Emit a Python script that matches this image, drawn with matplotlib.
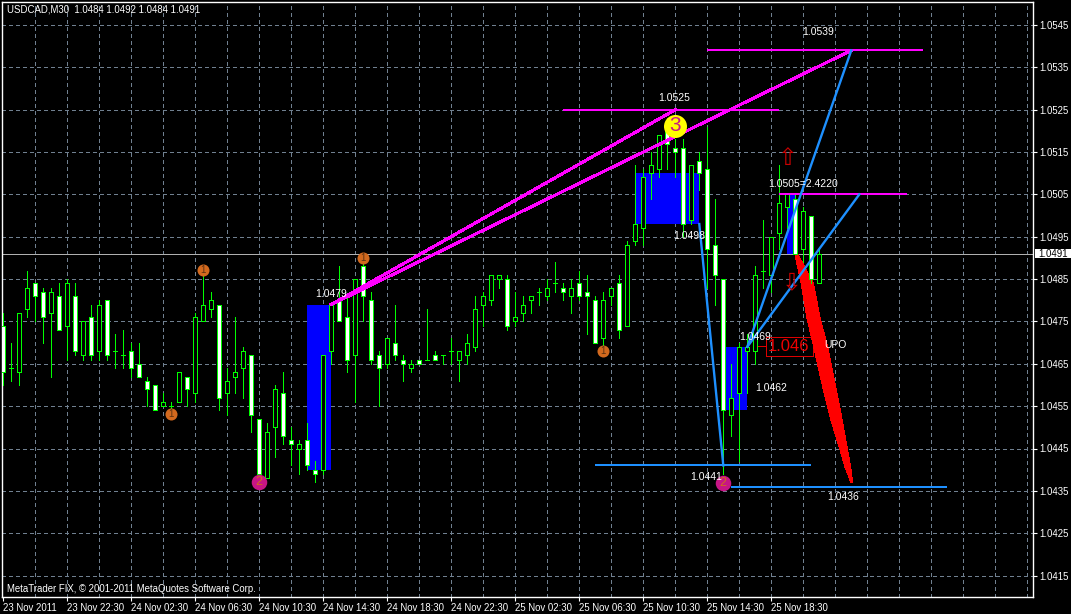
import matplotlib
matplotlib.use('Agg')
import numpy as np
import matplotlib.pyplot as plt
from matplotlib.patches import Rectangle, Polygon

# candle values, in pips above 1.0400
opens = [74, 64, 63, 78, 84, 82, 77, 81, 74, 81,
         67, 76, 68, 80, 68, 67, 68, 65, 61, 60,
         55, 55, 56, 62, 58, 75, 78, 79, 58, 62,
         64, 67, 52, 38, 50, 58, 47, 45, 47, 40,
         40, 68, 80, 76, 67, 88, 80, 67, 65, 70,
         66, 64, 66, 66, 67, 67, 68, 66, 67, 69,
         79, 80, 85, 85, 75, 77, 80, 82, 81, 84,
         83, 81, 84, 82, 80, 71, 81, 84, 74, 94,
         97, 110, 111, 120, 116, 116, 99, 113, 111, 93,
         85, 53, 58, 68, 68, 87, 86, 96, 102, 104,
         92, 100, 84]
closes = [63, 64, 77, 83, 81, 76, 82, 73, 84, 68,
          75, 67, 79, 67, 68, 67, 64, 62, 59, 54,
          56, 55, 63, 59, 76, 79, 80, 57, 61, 63,
          68, 53, 39, 49, 59, 48, 46, 46, 41, 39,
          67, 79, 75, 66, 85, 81, 66, 64, 71, 67,
          65, 65, 65, 66, 66, 67, 68, 68, 70, 78,
          81, 86, 86, 74, 76, 79, 81, 82, 83, 84,
          82, 83, 81, 81, 70, 80, 83, 73, 93, 98,
          109, 112, 119, 117, 115, 98, 112, 110, 92, 86,
          54, 57, 69, 69, 86, 87, 95, 103, 105, 91,
          101, 85, 91]
highs = [77, 70, 77, 87, 84, 83, 83, 84, 85, 84,
         75, 79, 80, 80, 72, 73, 70, 70, 62, 60,
         58, 56, 63, 62, 77, 87, 82, 79, 64, 76,
         69, 67, 52, 51, 60, 63, 50, 47, 51, 42,
         67, 79, 88, 81, 85, 90, 82, 68, 71, 79,
         67, 66, 66, 78, 68, 67, 71, 68, 72, 81,
         82, 86, 86, 86, 82, 81, 81, 83, 85, 89,
         84, 85, 87, 86, 81, 82, 83, 86, 94, 112,
         111, 115, 119, 123, 118, 118, 112, 115, 121, 104,
         85, 65, 70, 72, 88, 99, 95, 112, 105, 105,
         102, 100, 92]
lows = [60, 61, 60, 76, 75, 70, 62, 73, 66, 67,
        66, 66, 66, 66, 64, 64, 62, 62, 55, 54,
        55, 53, 56, 55, 56, 75, 76, 54, 53, 58,
        57, 49, 39, 38, 43, 46, 41, 39, 40, 37,
        39, 65, 75, 63, 56, 75, 65, 55, 64, 66,
        61, 63, 65, 66, 66, 65, 65, 61, 65, 68,
        74, 79, 83, 73, 74, 75, 77, 79, 80, 82,
        80, 77, 80, 72, 70, 68, 79, 71, 74, 93,
        93, 104, 109, 111, 109, 95, 98, 106, 83, 79,
        39, 48, 42, 58, 65, 83, 82, 92, 97, 91,
        89, 84, 84]

date_labels = ['23 Nov 2011', '23 Nov 22:30', '24 Nov 02:30', '24 Nov 06:30', '24 Nov 10:30',
               '24 Nov 14:30', '24 Nov 18:30', '24 Nov 22:30', '25 Nov 02:30', '25 Nov 06:30',
               '25 Nov 10:30', '25 Nov 14:30', '25 Nov 18:30']
price_ticks = [1.0415, 1.0425, 1.0435, 1.0445, 1.0455, 1.0465, 1.0475, 1.0485, 1.0495,
               1.0505, 1.0515, 1.0525, 1.0535, 1.0545]
last_price = 1.0491

# blue boxes: first bar, last bar, top price, bottom price
box_left = [38, 79, 90.3, 98]
box_right = [41, 87, 93, 99]
box_top = [1.0479, 1.0510, 1.0469, 1.0505]
box_bottom = [1.0440, 1.0498, 1.0454, 1.0491]

# levels: first bar, last bar, price
magenta_start = [70, 88, 97]
magenta_end = [97, 115, 113]
magenta_price = [1.0525, 1.0539, 1.0505]
level_start = [74, 91]
level_end = [101, 118]
level_price = [1.0441, 1.0436]

# red wedge outline
wedge_left_bar = [98.96, 99.71, 100.43, 101.38, 102.3, 103.34, 104.59, 105.21, 105.96]
wedge_right_bar = [99.38, 101.25, 102.09, 103.13, 103.96, 104.8, 105.55, 105.93, 106.18]
wedge_price = [1.04907, 1.04841, 1.04760, 1.04683, 1.04605, 1.04524, 1.04446, 1.04406, 1.04369]

# numbered markers
orange_bar = [25, 21, 45, 75]
orange_price = [1.04872, 1.04532, 1.04901, 1.04680]
purple_bar = [32, 90]
purple_price = [1.04370, 1.04369]

# value labels
label_text = ['1.0539', '1.0525', '1.0479', '1.0505=2.4220', '1.0498', '1.0469', '1.0462', '1.0441', '1.0436', 'UPO']
label_bar = [101.8, 83.8, 40.96, 99.96, 85.8, 93.96, 95.96, 87.8, 104.96, 103.96]
label_price = [1.05433, 1.05278, 1.04815, 1.05075, 1.04952, 1.04713, 1.04593, 1.04383, 1.04335, 1.04694]

font = 'Liberation Sans'
axis_size = 6.9
green = '#00ff00'
grid_col = '#708090'

o = 1.04 + np.array(opens) / 1e4
c = 1.04 + np.array(closes) / 1e4
h = 1.04 + np.array(highs) / 1e4
l = 1.04 + np.array(lows) / 1e4
bars = np.arange(len(o))

W, H = 1071, 614
fig = plt.figure(figsize=(W / 100, H / 100), dpi=100, facecolor='black')
ax = fig.add_axes([2 / W, 1 - 597 / H, (1033 - 2) / W, (597 - 2) / H], facecolor='black')
ax.set_xlim((2 - 3.3) / 8, (1033 - 3.3) / 8)
ax.set_ylim(1.0545 - (597 - 25) / 42350, 1.0545 - (2 - 25) / 42350)

# grid
for b in np.arange(4, 129, 4):
    ax.axvline(b, color=grid_col, lw=0.72, dashes=(4, 3), zorder=0.5, antialiased=False)
for p in price_ticks:
    ax.axhline(p, color=grid_col, lw=0.72, dashes=(4, 3), zorder=0.5, antialiased=False)

for i in range(len(box_left)):
    ax.add_patch(Rectangle((box_left[i], box_bottom[i]), box_right[i] - box_left[i],
                           box_top[i] - box_bottom[i], color='#0000ff', lw=0, zorder=1))

ax.axhline(last_price, color='#b0b0b0', lw=0.72, zorder=1.5, antialiased=False)

# red box label and wedge sit under the candles
ax.add_patch(Rectangle((95.3, 1.04668), 5.9, 0.00045, fill=False, edgecolor='#dd0000', lw=0.72, zorder=2, antialiased=False))
ax.plot([94, 95.3], [1.04692, 1.04692], color='#dd0000', lw=0.72, zorder=2, antialiased=False)
ax.text(95.6, 1.04691, '1.046', color='#ee0000', fontsize=12, family=font, va='center', ha='left', zorder=2)
wedge = list(zip(wedge_left_bar, wedge_price)) + list(zip(wedge_right_bar[::-1], wedge_price[::-1]))
ax.add_patch(Polygon(wedge, closed=True, color='#ff0000', lw=0, zorder=2.5, antialiased=False))

# candles
ax.vlines(bars, l, h, color=green, lw=0.72, zorder=3, antialiased=False)
for i in bars:
    face = 'white' if c[i] < o[i] else 'black'
    ax.add_patch(Rectangle((i - 0.25, min(o[i], c[i])), 0.5, abs(c[i] - o[i]), facecolor=face,
                           edgecolor=green, lw=0.72, zorder=3.2, antialiased=False))

# levels and trend lines
ax.hlines(magenta_price, magenta_start, magenta_end, color='#ff00ff', lw=1.4, zorder=4, antialiased=False)
ax.plot([41, 106], [1.0479, 1.0539], color='#ff00ff', lw=1.5, zorder=4, antialiased=False)
ax.plot([41, 84], [1.0479, 1.0525], color='#ff00ff', lw=1.5, zorder=4, antialiased=False)
ax.hlines(level_price, level_start, level_end, color='#1e90ff', lw=1.4, zorder=4, antialiased=False)
ax.plot([87, 90], [1.0498, 1.0441], color='#1e90ff', lw=1.7, zorder=4)
ax.plot([93, 106], [1.0469, 1.0539], color='#1e90ff', lw=1.7, zorder=4)
ax.plot([93, 107], [1.0469, 1.0505], color='#1e90ff', lw=1.7, zorder=4)

# arrows
ax.text(98.0, 1.05137, '\u21e7', color='#cc0000', fontsize=17, family='DejaVu Sans', ha='center', va='center', zorder=6)
ax.text(98.6, 1.04842, '\u21e9', color='#cc0000', fontsize=17, family='DejaVu Sans', ha='center', va='center', zorder=6)

# numbered markers
ax.scatter(orange_bar, orange_price, s=75, color='#d2691e', lw=0, zorder=7)
ax.scatter(purple_bar, purple_price, s=125, color='#c71585', lw=0, zorder=7)
ax.scatter([84], [1.05212], s=275, color='#ffff00', lw=0, zorder=7)
for b, p in zip(orange_bar, orange_price):
    ax.text(b, p, '1', color='#5a3010', fontsize=7, family=font, ha='center', va='center', zorder=8)
for b, p in zip(purple_bar, purple_price):
    ax.text(b, p, '2', color='#d2691e', fontsize=9, family=font, ha='center', va='center', zorder=8)
ax.text(84, 1.05212, '3', color='#c71585', fontsize=15, family=font, ha='center', va='center', zorder=8)

for t, b, p in zip(label_text, label_bar, label_price):
    ax.text(b, p, t, color='white', fontsize=7.5, family=font, ha='center', va='center', zorder=9)

ax.text(5 / 1031, 0.988, 'USDCAD,M30  1.0484 1.0492 1.0484 1.0491', color='white', fontsize=axis_size, family=font,
        transform=ax.transAxes, va='center', zorder=9)
ax.text(5 / 1031, 0.0135, 'MetaTrader FIX, \u00a9 2001-2011 MetaQuotes Software Corp.', color='white', fontsize=axis_size,
        family=font, transform=ax.transAxes, va='center', zorder=9)

# axes
for s in ax.spines.values():
    s.set_color('white')
    s.set_linewidth(1)
ax.yaxis.tick_right()
ax.set_yticks(price_ticks)
ax.set_yticklabels([f'{p:.4f}' for p in price_ticks], color='white', fontsize=axis_size, family=font)
ax.tick_params(axis='y', colors='white', length=3, width=0.8, pad=1.5)
ax.set_xticks(np.arange(len(date_labels)) * 8)
ax.set_xticklabels(date_labels, color='white', fontsize=axis_size, family=font, ha='left')
ax.tick_params(axis='x', colors='white', length=3, width=0.8, pad=1.5)

# current price tag on the axis
ax.add_patch(Rectangle((1.0019, last_price - 0.0001), 0.04, 0.0002, facecolor='white', edgecolor='none',
                       transform=ax.get_yaxis_transform(), clip_on=False, zorder=10))
ax.text(1.0055, last_price, f'{last_price:.4f}', color='black', fontsize=axis_size, family=font, va='center', ha='left',
        transform=ax.get_yaxis_transform(), clip_on=False, zorder=11)

plt.savefig('out.png', dpi=100, facecolor='black')
